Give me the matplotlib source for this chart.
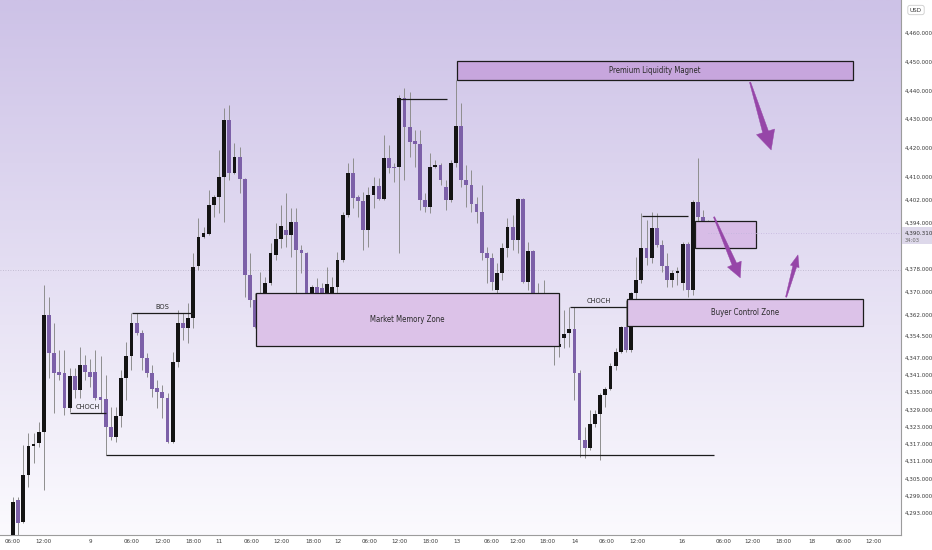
import matplotlib
matplotlib.use("Agg")

import matplotlib.pyplot as plt
import matplotlib.transforms as mtransforms
import numpy as np
from matplotlib.patches import Rectangle, Polygon

FONT = ["Liberation Sans Narrow", "DejaVu Sans"]
plt.rcParams["font.family"] = FONT
plt.rcParams["font.stretch"] = "condensed"

# 1h candles, XAUUSD-like
opens = [4284.0, 4297.5, 4289.9, 4306.2, 4316.3, 4317.4, 4321.2, 4361.9, 4348.7, 4342.1,
         4341.7, 4329.5, 4340.7, 4335.8, 4344.5, 4342.1, 4342.1, 4333.4, 4332.7, 4322.9,
         4319.4, 4326.7, 4340.0, 4347.6, 4359.1, 4355.6, 4346.9, 4341.7, 4336.5, 4335.1,
         4333.0, 4317.7, 4345.5, 4359.1, 4357.4, 4360.9, 4378.9, 4389.0, 4390.1, 4400.2,
         4403.0, 4409.9, 4429.7, 4411.3, 4416.9, 4409.2, 4375.8, 4367.1, 4357.7, 4369.5,
         4373.0, 4382.8, 4388.3, 4391.5, 4389.7, 4394.3, 4384.5, 4383.5, 4369.5, 4371.6,
         4371.3, 4369.5, 4369.5, 4371.6, 4381.0, 4396.7, 4411.3, 4403.0, 4401.6, 4391.5,
         4403.6, 4406.8, 4402.3, 4416.5, 4413.4, 4413.4, 4437.4, 4427.3, 4422.4, 4421.4,
         4401.9, 4399.5, 4413.4, 4414.1, 4406.4, 4401.9, 4414.8, 4427.6, 4408.9, 4407.1,
         4400.5, 4397.7, 4383.5, 4381.7, 4370.6, 4376.5, 4385.2, 4392.5, 4388.0, 4402.3,
         4373.4, 4384.2, 4365.4, 4367.5, 4356.7, 4357.7, 4350.8, 4353.9, 4355.6, 4357.0,
         4341.7, 4318.4, 4315.6, 4324.0, 4327.4, 4334.1, 4336.1, 4344.1, 4349.0, 4357.7,
         4349.7, 4369.5, 4374.1, 4385.2, 4381.7, 4392.2, 4386.2, 4378.9, 4374.1, 4376.5,
         4373.0, 4386.6, 4370.6, 4401.2, 4396.0, 4393.6]
closes = [4296.8, 4289.5, 4306.2, 4316.3, 4317.0, 4321.2, 4361.9, 4348.7, 4341.7, 4341.0,
          4329.5, 4340.7, 4335.8, 4344.5, 4342.1, 4340.3, 4333.0, 4332.3, 4322.9, 4319.4,
          4326.7, 4340.0, 4347.6, 4359.1, 4355.6, 4346.9, 4341.7, 4336.1, 4335.1, 4333.0,
          4317.7, 4345.5, 4359.1, 4357.4, 4360.9, 4378.6, 4389.0, 4390.4, 4400.2, 4403.0,
          4409.9, 4429.7, 4411.3, 4416.9, 4409.2, 4375.8, 4367.1, 4357.7, 4369.5, 4373.0,
          4383.5, 4388.3, 4392.9, 4389.7, 4394.3, 4384.5, 4383.5, 4369.5, 4371.6, 4369.5,
          4368.5, 4372.7, 4371.6, 4381.0, 4396.7, 4411.3, 4402.6, 4401.6, 4391.5, 4403.6,
          4406.8, 4402.3, 4416.5, 4413.0, 4413.0, 4437.4, 4427.3, 4422.1, 4421.4, 4401.9,
          4399.5, 4413.4, 4414.1, 4408.9, 4401.9, 4414.8, 4427.6, 4408.9, 4407.1, 4400.5,
          4397.7, 4383.5, 4381.7, 4373.4, 4376.5, 4385.2, 4392.5, 4388.0, 4402.3, 4373.4,
          4384.2, 4365.4, 4367.5, 4356.7, 4357.7, 4350.8, 4351.8, 4355.3, 4357.0, 4341.7,
          4318.4, 4315.6, 4324.0, 4327.4, 4334.1, 4336.1, 4344.1, 4349.0, 4357.7, 4349.7,
          4369.5, 4374.1, 4385.2, 4381.7, 4392.2, 4386.2, 4378.9, 4374.1, 4376.5, 4377.2,
          4386.6, 4370.6, 4401.2, 4396.0, 4393.6, 4390.3]
highs = [4298.6, 4298.6, 4316.7, 4320.8, 4320.8, 4324.7, 4372.3, 4368.2, 4359.1, 4349.7,
         4349.7, 4343.4, 4343.4, 4350.8, 4348.0, 4346.6, 4349.7, 4347.6, 4341.0, 4329.9,
         4329.9, 4342.8, 4352.5, 4362.6, 4362.6, 4356.7, 4348.7, 4344.5, 4339.3, 4337.5,
         4334.8, 4349.0, 4363.6, 4362.6, 4366.1, 4383.5, 4395.6, 4392.5, 4405.4, 4403.5,
         4419.3, 4433.9, 4435.0, 4421.7, 4420.3, 4409.5, 4383.5, 4369.5, 4376.9, 4375.1,
         4386.9, 4393.9, 4400.2, 4404.3, 4399.1, 4399.1, 4386.2, 4383.8, 4372.3, 4374.8,
         4373.0, 4378.6, 4375.1, 4383.8, 4397.7, 4414.8, 4416.5, 4403.6, 4404.7, 4406.4,
         4409.9, 4409.6, 4424.5, 4421.0, 4414.8, 4438.4, 4440.9, 4439.5, 4426.2, 4426.2,
         4404.3, 4418.3, 4415.8, 4414.8, 4408.9, 4415.8, 4443.6, 4435.7, 4414.1, 4412.3,
         4403.0, 4407.1, 4385.6, 4383.5, 4380.0, 4386.9, 4395.6, 4396.7, 4402.6, 4402.6,
         4387.3, 4384.5, 4373.0, 4374.1, 4359.1, 4361.2, 4355.6, 4363.6, 4364.7, 4364.7,
         4342.8, 4322.9, 4328.8, 4328.8, 4334.8, 4336.8, 4345.2, 4350.4, 4358.0, 4367.1,
         4369.8, 4382.1, 4397.4, 4394.9, 4397.7, 4397.4, 4388.0, 4383.5, 4377.5, 4378.6,
         4387.3, 4387.3, 4401.9, 4416.5, 4398.4, 4394.9]
lows = [4283.0, 4284.0, 4289.5, 4302.0, 4310.4, 4316.0, 4301.0, 4340.0, 4327.8, 4339.3,
        4327.1, 4328.1, 4333.0, 4333.0, 4339.3, 4336.8, 4332.3, 4327.8, 4313.2, 4318.4,
        4317.7, 4322.9, 4332.3, 4342.8, 4355.0, 4342.8, 4340.3, 4333.4, 4329.5, 4326.1,
        4317.4, 4317.4, 4343.8, 4353.2, 4352.2, 4357.4, 4377.5, 4388.7, 4389.7, 4396.0,
        4397.4, 4394.3, 4408.9, 4410.8, 4404.3, 4368.2, 4364.7, 4357.2, 4357.2, 4369.2,
        4372.3, 4381.0, 4385.2, 4385.6, 4382.1, 4369.5, 4376.5, 4368.9, 4361.2, 4362.6,
        4367.1, 4367.8, 4362.9, 4367.1, 4380.3, 4396.0, 4399.1, 4396.0, 4384.5, 4385.6,
        4399.1, 4401.9, 4401.9, 4411.3, 4408.2, 4383.5, 4408.9, 4416.9, 4413.4, 4398.4,
        4397.7, 4397.4, 4413.0, 4407.1, 4398.4, 4401.2, 4413.4, 4406.4, 4399.5, 4397.7,
        4393.9, 4381.0, 4373.0, 4370.6, 4364.7, 4374.1, 4382.1, 4384.5, 4383.5, 4373.0,
        4370.6, 4357.7, 4357.7, 4352.2, 4356.0, 4344.5, 4347.3, 4350.4, 4350.8, 4332.3,
        4312.5, 4312.1, 4314.9, 4322.9, 4311.4, 4329.9, 4335.8, 4342.8, 4348.7, 4349.0,
        4349.0, 4367.1, 4373.0, 4379.3, 4380.0, 4385.6, 4376.9, 4371.6, 4371.6, 4372.3,
        4370.6, 4368.2, 4368.9, 4394.3, 4389.0, 4389.0]

# time axis (bar index positions of the labels TradingView shows)
x_tick_pos = [0, 6, 15.1, 23.1, 29.1, 35, 40, 46.4, 52.2, 58.3, 63.1, 69.3, 75.1, 81,
              86.2, 93, 97.9, 103.7, 109.1, 115.3, 121.2, 129.9, 137.9, 143.5, 149.5,
              155.1, 161.2, 167]
x_tick_labels = ["06:00", "12:00", "9", "06:00", "12:00", "18:00", "11", "06:00", "12:00",
                 "18:00", "12", "06:00", "12:00", "18:00", "13", "06:00", "12:00", "18:00",
                 "14", "06:00", "12:00", "16", "06:00", "12:00", "18:00", "18", "06:00",
                 "12:00"]
y_ticks = [4460, 4450, 4440, 4430, 4420, 4410, 4402, 4394, 4378, 4370, 4362, 4354.5,
           4347, 4341, 4335, 4329, 4323, 4317, 4311, 4305, 4299, 4293]

last_price = 4390.310
countdown = "34:03"

# zones: (x0, x1, low, high, label, colour)
zones = [
    (86.2, 163.1, 4443.6, 4450.3, "Premium Liquidity Magnet", "#C7A6DD"),
    (47.2, 106.0, 4351.1, 4369.5, "Market Memory Zone", "#DCC2E8"),
    (119.2, 165.0, 4358.0, 4367.4, "Buyer Control Zone", "#DCC2E8"),
    (132.4, 144.3, 4385.2, 4394.6, "", "#D8BDE7"),
]
# structure lines: (x0, x1, price, label)
levels = [
    (11.1, 18.0, 4327.9, "CHOCH"),
    (23.1, 35.0, 4362.6, "BOS"),
    (18.0, 136.1, 4313.2, ""),
    (75.1, 84.3, 4437.0, ""),
    (108.2, 119.2, 4364.7, "CHOCH"),
    (122.1, 131.1, 4396.3, ""),
]
# arrows: (x0, y0, x1, y1, head_len_px, head_w_px, tail_w_px)
arrows = [
    (143.1, 4442.9, 147.2, 4419.3, 19, 19, 6),
    (136.1, 4396.0, 141.2, 4374.8, 15, 15, 5),
    (150.1, 4368.1, 152.4, 4382.8, 12, 9, 4),
]

UP = "#141414"
DOWN = "#7C60A8"
WICK = "#8E8E8E"
XLIM = (-2.52, 172.4)
YLIM = (4285.3, 4471.5)

fig = plt.figure(figsize=(9.32, 5.5), dpi=100, facecolor="white")
ax = fig.add_axes([0, 15 / 550, 901 / 932, 535 / 550])
ax.set_xlim(*XLIM)
ax.set_ylim(*YLIM)

# background gradient: lavender on top fading to almost white
grad = np.linspace(0, 1, 256).reshape(-1, 1)
top = np.array([205, 194, 231]) / 255
bot = np.array([251, 250, 254]) / 255
img = top[None, None, :] * (1 - grad[..., None]) + bot[None, None, :] * grad[..., None]
ax.imshow(img, extent=[*XLIM, YLIM[0], YLIM[1]], aspect="auto", origin="upper",
          zorder=0, interpolation="bilinear")

# crosshair-ish dotted line
ax.axhline(4377.5, color="#B8B2C8", lw=0.6, ls=(0, (1, 2)), zorder=1)

idx = np.arange(len(opens))
o = np.array(opens)
c = np.array(closes)
up = c >= o
ax.vlines(idx, lows, highs, color=WICK, lw=0.7, zorder=2)
body_lo = np.minimum(o, c)
body_h = np.maximum(np.abs(c - o), 0.45)
ax.bar(idx, body_h, bottom=body_lo, width=0.74,
       color=np.where(up, UP, DOWN), linewidth=0, zorder=3)

# zones
for x0, x1, lo, hi, label, col in zones:
    ax.add_patch(Rectangle((x0, lo), x1 - x0, hi - lo, facecolor=col,
                           edgecolor="#1c1c1c", lw=0.9, zorder=4))
    if label:
        ax.text((x0 + x1) / 2, (lo + hi) / 2, label, ha="center", va="center",
                fontsize=5.6, color="#2a2a2a", zorder=6)

# current price dotted line
ax.hlines(last_price, len(opens) - 1, XLIM[1], color="#C2B4DC", lw=0.6,
          linestyles=(0, (1, 2)), zorder=5)

# structure levels
for x0, x1, p, label in levels:
    ax.hlines(p, x0, x1, color="#1c1c1c", lw=0.9, zorder=5)
    if label:
        ax.text((x0 + x1) / 2, p + 1.0, label, ha="center", va="bottom",
                fontsize=5.3, color="#2a2a2a", zorder=6)


# tapered TradingView-style arrows drawn in display space
def taper_arrow(x0, y0, x1, y1, head_len, head_w, tail_w, color="#9646A8"):
    a = ax.transData.transform((x0, y0))
    b = ax.transData.transform((x1, y1))
    d = b - a
    u = d / np.hypot(*d)
    n = np.array([-u[1], u[0]])
    base = b - u * head_len
    pts = [a + n * 0.6, base + n * tail_w / 2, base + n * head_w / 2, b,
           base - n * head_w / 2, base - n * tail_w / 2, a - n * 0.6]
    ax.add_patch(Polygon(pts, closed=True, facecolor=color, edgecolor=color, lw=0.3,
                         transform=mtransforms.IdentityTransform(), zorder=7))


for a in arrows:
    taper_arrow(*a)

# axes cosmetics
for s in ("top", "left"):
    ax.spines[s].set_visible(False)
for s in ("right", "bottom"):
    ax.spines[s].set_color("#9C9C9C")
    ax.spines[s].set_linewidth(0.8)
ax.yaxis.tick_right()
ax.set_yticks(y_ticks)
ax.set_yticklabels([f"{v:,.3f}" for v in y_ticks])
ax.set_xticks(x_tick_pos)
ax.set_xticklabels(x_tick_labels)
ax.tick_params(axis="both", length=0, labelsize=4.5, labelcolor="#3a3a3a")
ax.tick_params(axis="y", pad=3)
ax.tick_params(axis="x", pad=3)

# last price badge on the price scale
py = ax.transData.transform((0, last_price))[1]
fig_h = 550
badge = Rectangle((902 / 932, (py - 11) / fig_h), 30 / 932, 17 / fig_h,
                  transform=fig.transFigure, facecolor="#DDD8EA", edgecolor="none",
                  zorder=10)
fig.add_artist(badge)
fig.text(905 / 932, py / fig_h, f"{last_price:,.3f}", ha="left", va="center",
         fontsize=4.5, color="#333333", zorder=11)
fig.text(905 / 932, (py - 7) / fig_h, countdown, ha="left", va="center",
         fontsize=4.2, color="#6a6a6a", zorder=11)

fig.text(916 / 932, 1 - 10 / fig_h, "USD", ha="center", va="center", fontsize=4.5,
         color="#333333",
         bbox=dict(boxstyle="round,pad=0.35", facecolor="white", edgecolor="#CCCCCC",
                   lw=0.6))

fig.savefig("out.png", dpi=100, facecolor="white")
plt.close(fig)
